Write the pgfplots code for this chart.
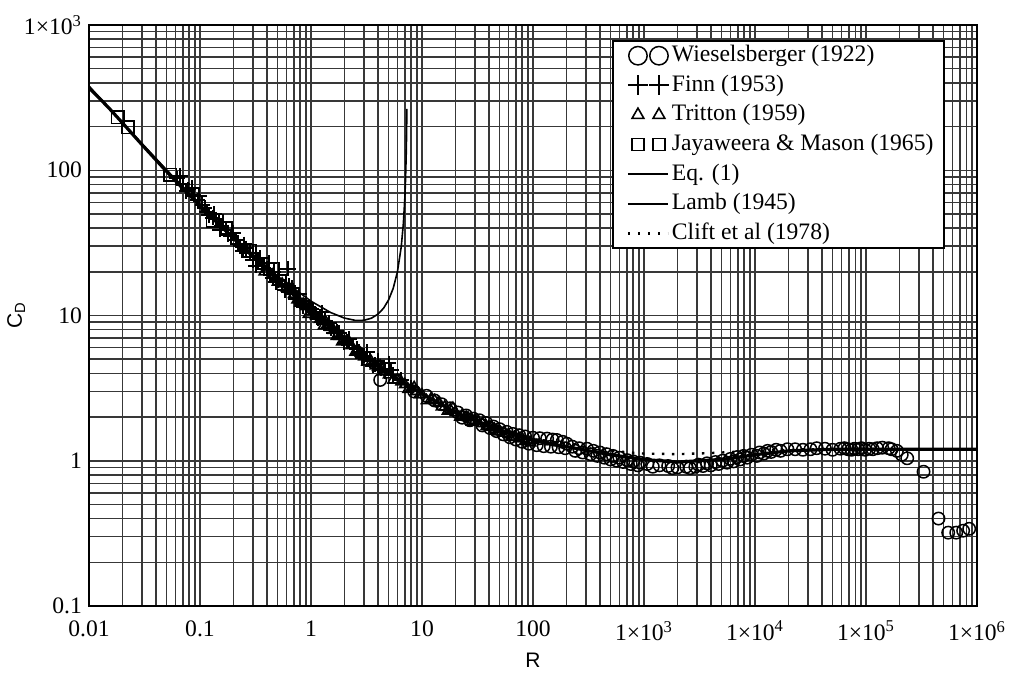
\documentclass[border=0pt]{standalone}
\usepackage{fontspec}
\setmainfont{Liberation Serif}
\setsansfont{Liberation Sans}
\usepackage{pgfplots}
\pgfplotsset{compat=1.18}
\pgfplotsset{
  twomarks/.style={legend image code/.code={\path[draw=none,fill=none] (-3pt,0pt) -- (21pt,0pt);\draw[mark repeat=1,mark phase=1,##1,mark size=#1,only marks] plot coordinates {(5.5pt,0pt) (16pt,0pt)};}},
  shortline/.style={legend image code/.code={\path[draw=none,fill=none] (-3pt,0pt) -- (21pt,0pt);\draw[##1] (0.5pt,0pt) -- (20.5pt,0pt);}},
  eqline/.style={legend image code/.code={\path[draw=none,fill=none] (-3pt,0pt) -- (21pt,0pt);\draw[##1,line width=1.1pt] (0.5pt,0pt) -- (20.5pt,0pt);}},
}
\begin{document}
\begin{tikzpicture}
\begin{axis}[
  scale only axis, width=444pt, height=290.5pt,
  xmode=log, ymode=log,
  xmin=0.01, xmax=1e6, ymin=0.1, ymax=1000,
  xtick={0.01,0.1,1,10,100,1000,10000,100000,1000000},
  xticklabels={0.01,0.1,1,10,100,1×10\textsuperscript{3},1×10\textsuperscript{4},1×10\textsuperscript{5},1×10\textsuperscript{6}},
  minor xtick={0.02,0.03,0.04,0.05,0.06,0.07,0.08,0.09,0.2,0.3,0.4,0.5,0.6,0.7,0.8,0.9,2,3,4,5,6,7,8,9,20,30,40,50,60,70,80,90,200,300,400,500,600,700,800,900,2000,3000,4000,5000,6000,7000,8000,9000,20000,30000,40000,50000,60000,70000,80000,90000,200000,300000,400000,500000,600000,700000,800000,900000},
  ytick={0.1,1,10,100,1000},
  yticklabels={0.1,1,10,100,1×10\textsuperscript{3}},
  minor ytick={0.2,0.3,0.4,0.5,0.6,0.7,0.8,0.9,2,3,4,5,6,7,8,9,20,30,40,50,60,70,80,90,200,300,400,500,600,700,800,900},
  grid=both,
  major grid style={black!78,line width=0.75pt},
  minor grid style={black!78,line width=0.75pt},
  major tick length=0pt, minor tick length=0pt,
  axis line style={black,line width=1pt},
  tick label style={font=\fontsize{11.8}{14}\selectfont},
  xticklabel style={yshift=-4pt},
  xlabel={R}, ylabel={C\textsubscript{D}},
  label style={font=\sffamily\fontsize{10.5}{12}\selectfont},
  xlabel style={at={(axis description cs:0.5,0)},anchor=center,yshift=-27pt},
  ylabel style={at={(axis description cs:-0.082,0.5)},anchor=center},
  legend style={at={(0.964,0.974)},anchor=north east,draw=black,line width=0.8pt,fill=white,
    font=\fontsize{11.8}{14}\selectfont,
    nodes={text height=9pt,text depth=3pt,inner sep=1.4pt},
    inner xsep=4pt, inner ysep=0pt},
  legend cell align=left,
]
% Wieselsberger (1922)
\addplot[only marks, mark=o, mark size=3.1pt, line width=0.75pt, black, twomarks=4.6pt]
coordinates {
(4.2,3.6) (8.5,3.0) (11,2.8) (13,2.6) (15,2.45) (18,2.3) (21,2.15) (25,2.05) (29,1.95) (33,1.9)
(38,1.82) (44,1.72) (50,1.65) (58,1.58) (66,1.53) (75,1.5) (85,1.47) (100,1.44) (115,1.43) (134,1.42)
(150,1.4) (164,1.39) (185,1.35) (202,1.31) (226,1.25) (260,1.22) (306,1.21) (350,1.17) (400,1.14) (460,1.11)
(525,1.08) (600,1.05) (703,1.01) (800,0.99) (920,0.97) (1070,0.95) (1380,0.93) (1650,0.92) (2000,0.9) (2400,0.91)
(2900,0.91) (3400,0.92) (4000,0.93) (4700,0.95) (5600,0.97) (6400,0.99) (7300,1.02) (8500,1.05) (10400,1.08) (12000,1.12)
(14000,1.15) (17000,1.17) (19600,1.2) (23000,1.2) (31600,1.2) (42700,1.21) (58900,1.21) (69000,1.2) (79000,1.21) (91000,1.22)
(107000,1.21) (126000,1.22) (140000,1.23) (160000,1.22) (190000,1.17) (210000,1.1) (235000,1.04) (330000,0.84) (450000,0.40)
(550000,0.32) (650000,0.32) (750000,0.33) (850000,0.34)
(23,1.98) (27,1.9) (35,1.75) (41,1.68) (47,1.6) (54,1.52) (62,1.45) (70,1.4) (80,1.35) (92,1.31)
(108,1.28) (125,1.26) (145,1.25) (170,1.24) (195,1.22) (240,1.17) (280,1.14) (330,1.11) (380,1.08) (440,1.05)
(500,1.02) (570,1.0) (650,0.98) (760,0.95) (880,0.93) (1200,0.91) (1800,0.89) (2600,0.89) (3100,0.94) (3700,0.96)
(4400,0.98) (5100,1.0) (6000,1.03) (6900,1.06) (7900,1.08) (9300,1.1) (11000,1.14) (13000,1.17) (15500,1.19) (27000,1.19)
(36000,1.22) (50000,1.19) (64000,1.22) (74000,1.19) (85000,1.2) (98000,1.19) (115000,1.2) (170000,1.2)
};
\addlegendentry{Wieselsberger (1922)}
% Finn (1953)
\addplot[only marks, mark=+, mark size=3.8pt, line width=1pt, black, twomarks=5pt]
coordinates {
(0.062,88) (0.07,80) (0.078,74) (0.085,76) (0.095,62) (0.105,58) (0.115,52) (0.13,47) (0.14,46) (0.155,41)
(0.17,39) (0.19,35) (0.21,33) (0.23,30) (0.25,31) (0.28,27) (0.3,24) (0.33,24) (0.36,22) (0.4,21)
(0.43,19) (0.46,20) (0.5,17.5) (0.55,16) (0.6,16.5) (0.62,21) (0.65,14.5) (0.7,14) (0.75,13) (0.8,12.5)
(0.9,12) (1.0,11) (1.1,10.2) (1.2,9.8) (1.35,9.2) (1.5,8.2) (1.7,7.8) (1.9,7.0) (2.1,6.6) (2.4,6.0)
(2.7,5.6) (3.0,5.3) (3.4,4.9) (3.8,4.6) (4.3,4.3) (5.0,4.7) (5.5,3.9) (6.5,3.6) (8,3.2)
(0.066,92) (0.075,72) (0.088,68) (0.098,66) (0.11,55) (0.12,49) (0.135,50) (0.15,39) (0.16,44) (0.18,36)
(0.2,37) (0.22,31) (0.24,28) (0.26,29) (0.3,27) (0.32,22) (0.35,25) (0.38,21) (0.42,23) (0.45,18)
(0.48,17) (0.52,19) (0.58,15) (0.63,16) (0.68,15.5) (0.72,13) (0.78,14) (0.85,11.5) (0.95,11.5) (1.05,10.5)
(1.15,9.5) (1.25,10.5) (1.3,8.8) (1.45,8.9) (1.6,7.6) (1.8,7.6) (2.0,6.5) (2.2,6.9) (2.6,5.9) (2.9,5.1)
(3.2,5.6) (3.6,4.5) (4.0,4.9) (4.6,4.1) (5.3,4.2)
};
\addlegendentry{Finn (1953)}
% Tritton (1959)
\addplot[only marks, mark=triangle, mark size=3pt, line width=0.8pt, black, twomarks=3.4pt]
coordinates {
(0.38,20) (0.45,19) (0.5,17) (0.6,15.5) (0.7,14) (0.8,12.2) (0.9,11.5) (1.0,10.6) (1.2,9.4) (1.4,8.7)
(1.6,7.9) (1.8,7.2) (2.0,6.7) (2.3,6.2) (2.6,5.7) (3.0,5.2) (3.5,4.8) (4,4.4) (4.5,4.1) (5,3.9)
(6,3.6) (7,3.35) (8,3.15) (9,3.0) (10,2.85) (12,2.65) (14,2.5) (16,2.35) (18,2.25) (20,2.15)
(23,2.05) (26,1.98) (30,1.9) (35,1.8) (40,1.72) (45,1.65) (50,1.6) (60,1.52) (70,1.45) (80,1.42) (90,1.38)
(0.55,16.5) (0.65,15) (0.75,12.8) (0.85,12) (0.95,10.2) (1.1,10) (1.3,8.5) (1.5,8.3) (1.7,7.2) (1.9,6.6)
(2.2,6.6) (2.5,5.6) (2.8,5.5) (3.2,4.8) (3.8,4.5) (4.2,4.5) (5.5,3.6) (6.5,3.5) (7.5,3.1) (8.5,3.2)
(9.5,2.85) (11,2.6) (13,2.6) (15,2.35) (17,2.2) (19,2.3) (22,2.0) (25,2.0) (28,1.85) (32,1.86)
(38,1.72) (42,1.7) (48,1.58) (55,1.55) (65,1.45) (75,1.42) (85,1.36) (95,1.33)
};
\addlegendentry{Tritton (1959)}
% Jayaweera & Mason (1965)
\addplot[only marks, mark=square, mark size=3.1pt, line width=0.8pt, black, twomarks=3pt]
coordinates {
(0.0182,232) (0.0225,198) (0.054,93) (0.13,45) (0.17,40) (0.28,28) (0.45,21)
};
\addlegendentry{Jayaweera \& Mason (1965)}
% Eq. (1)
\addplot[black, line width=1.6pt, no marks, eqline]
coordinates {
(0.01,370) (0.015,270) (0.02,212) (0.03,150) (0.05,98) (0.07,75) (0.1,57) (0.15,42) (0.2,34) (0.3,25.5)
(0.5,17.5) (0.7,13.8) (1,10.8) (1.5,8.3) (2,6.9) (3,5.4) (5,4.0) (7,3.4) (10,2.9) (20,2.15)
(30,1.9) (50,1.62) (100,1.38) (200,1.25) (500,1.1) (1000,1.02) (2000,0.98) (5000,1.02) (10000,1.1) (20000,1.17)
(50000,1.2) (100000,1.2) (1000000,1.2)
};
\addlegendentry{Eq. (1)}
% Lamb (1945)
\addplot[black, line width=0.8pt, no marks, shortline]
coordinates {
(0.01,380.4) (0.02,212.5) (0.05,100.6) (0.1,58.38) (0.2,34.79) (0.5,18.65) (1,12.55) (1.5,10.49) (2,9.60) (2.5,9.26)
(3,9.27) (3.5,9.58) (4,10.20) (4.5,11.21) (5,12.80) (5.5,15.36) (6,19.90) (6.5,29.65) (6.8,43.33) (7,63.77)
(7.1,84.08) (7.2,124.2) (7.25,163.2) (7.3,239.6) (7.31,264.5)
};
\addlegendentry{Lamb (1945)}
% Clift et al (1978)
\addplot[black, line width=1.2pt, dash pattern=on 1.2pt off 3.8pt, no marks, shortline]
coordinates {
(100,1.42) (200,1.3) (500,1.17) (1000,1.12) (2000,1.11) (4000,1.13) (10000,1.17) (30000,1.2) (100000,1.21) (200000,1.2)
};
\addlegendentry{Clift et al (1978)}
\end{axis}
\pgfresetboundingbox
\path[use as bounding box] ([xshift=-44.5pt,yshift=-36.5pt]current axis.south west) rectangle ([xshift=19pt,yshift=12.5pt]current axis.north east);
\end{tikzpicture}
\end{document}
